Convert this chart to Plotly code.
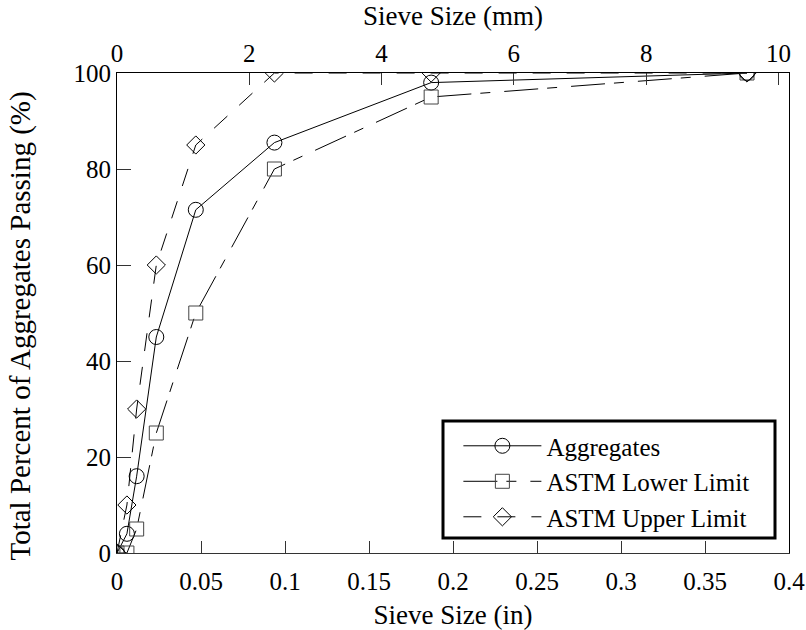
import plotly.graph_objects as go

# Sieve sizes (in): pan, No.100, No.50, No.30, No.16, No.8, No.4, 3/8"
sieve_in = [0, 0.0059, 0.0117, 0.0234, 0.0469, 0.0937, 0.187, 0.375]
aggregates = [0, 4, 16, 45, 71.5, 85.5, 98, 100]
astm_lower = [0, 0, 5, 25, 50, 80, 95, 100]
astm_upper = [0, 10, 30, 60, 85, 100, 100, 100]

x_ticks_in = [0, 0.05, 0.1, 0.15, 0.2, 0.25, 0.3, 0.35, 0.4]
x_ticks_mm = [0, 2, 4, 6, 8, 10]
y_ticks = [0, 20, 40, 60, 80, 100]

FAM = "Liberation Serif"
TICK = dict(family=FAM, size=25, color="black")
TITLE = dict(family=FAM, size=27, color="black")
YTITLE = dict(family=FAM, size=29, color="black")
LEG = dict(family=FAM, size=25, color="black")

fig = go.Figure()
fig.add_trace(go.Scatter(
    x=sieve_in, y=aggregates, name="Aggregates", mode="lines+markers",
    line=dict(color="black", width=1),
    marker=dict(symbol="circle-open", size=15, color="black", line=dict(width=1)),
))
fig.add_trace(go.Scatter(
    x=sieve_in, y=astm_lower, name="ASTM Lower Limit", mode="lines+markers",
    line=dict(color="black", width=1, dash="34px,9px,10px,14px"),
    marker=dict(symbol="square-open", size=14, color="#444", line=dict(width=1)),
))
fig.add_trace(go.Scatter(
    x=sieve_in, y=astm_upper, name="ASTM Upper Limit", mode="lines+markers",
    line=dict(color="black", width=1, dash="18px,16px"),
    marker=dict(symbol="diamond-open", size=14, color="black", line=dict(width=1)),
))
# invisible trace to drive the top (mm) axis
fig.add_trace(go.Scatter(
    x=[v * 25.4 for v in [0, 0.4]], y=[0, 0], xaxis="x2", mode="markers",
    marker=dict(opacity=0), showlegend=False, hoverinfo="skip",
))

fig.update_layout(
    width=806, height=630,
    margin=dict(l=117, r=17, t=73, b=77),
    paper_bgcolor="white", plot_bgcolor="white",
    font=dict(family=FAM, size=25, color="black"),
    showlegend=True,
    xaxis=dict(
        range=[0, 0.4], tickvals=x_ticks_in, ticktext=[f"{v:g}" for v in x_ticks_in],
        ticks="inside", ticklen=12, tickcolor="#333", showgrid=False, zeroline=False,
        showline=True, linecolor="#333", linewidth=1, automargin=False,
        ticklabelstandoff=6,
        title=dict(text="Sieve Size (in)", font=TITLE, standoff=17),
        tickfont=TICK,
    ),
    xaxis2=dict(
        range=[0, 0.4 * 25.4], overlaying="x", side="top", anchor="y",
        tickvals=x_ticks_mm, ticks="inside", ticklen=12, tickcolor="#333",
        showgrid=False, zeroline=False, showline=True, linecolor="black", linewidth=1,
        automargin=False,
        title=dict(text="Sieve Size (mm)", font=TITLE, standoff=6),
        tickfont=TICK,
    ),
    yaxis=dict(
        range=[0, 100], tickvals=y_ticks, ticks="inside", ticklen=14, tickcolor="#333",
        showgrid=False, zeroline=False, showline=True, mirror=True,
        linecolor="black", linewidth=1, automargin=False,
        tickfont=TICK,
    ),
    legend=dict(
        x=0.508, y=0.027, xanchor="left", yanchor="bottom",
        bgcolor="rgba(0,0,0,0)", borderwidth=0,
        font=LEG, itemwidth=78, tracegroupgap=0,
    ),
    annotations=[dict(
        text="Total Percent of Aggregates Passing (%)", textangle=-90,
        xref="paper", yref="paper", x=(19.5 - 117) / 672, y=(553 - 326) / 480,
        xanchor="center", yanchor="middle", showarrow=False, font=YTITLE,
    )],
    shapes=[dict(
        type="rect", xref="paper", yref="paper",
        x0=(443 - 117) / 672, x1=(775 - 117) / 672,
        y0=(553 - 538) / 480, y1=(553 - 421) / 480,
        line=dict(color="black", width=3), fillcolor="white", layer="below",
    )],
)

fig.write_html("out.html")
